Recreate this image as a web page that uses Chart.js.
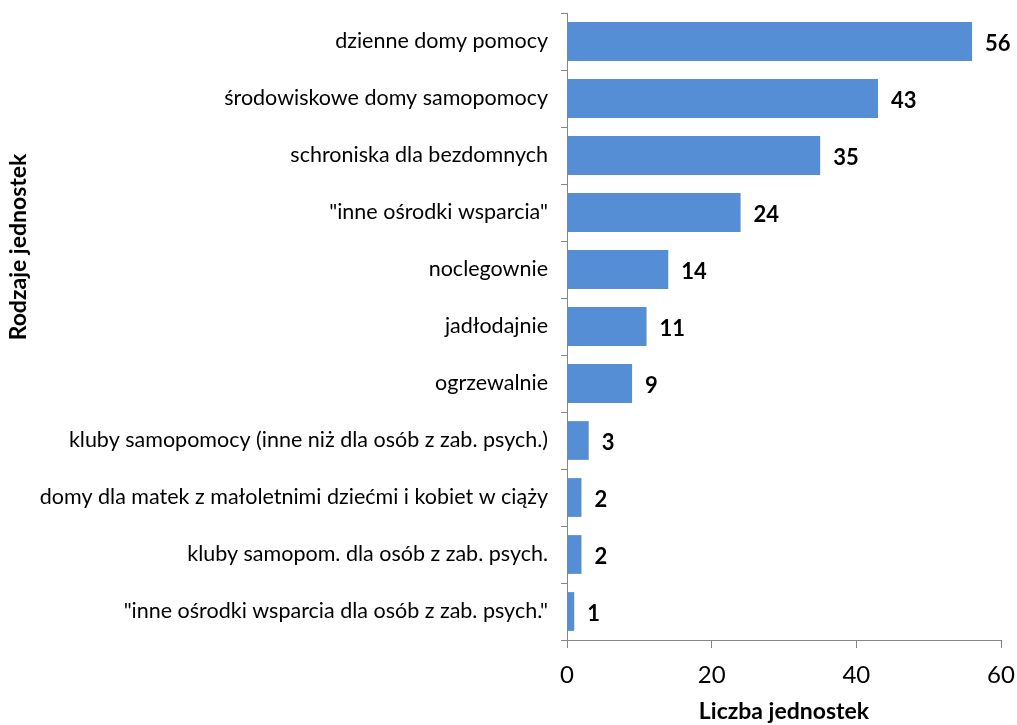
<!DOCTYPE html>
<html>
<head>
<meta charset="utf-8">
<script src="https://cdn.jsdelivr.net/npm/chart.js@4/dist/chart.umd.min.js"></script>
<style>
  html, body { margin: 0; padding: 0; background: #fff; }
  #wrap { width: 1017px; height: 725px; }
</style>
</head>
<body>
<div id="wrap"><canvas id="chart"></canvas></div>
<script>
const categories = [
    'dzienne domy pomocy',
    'środowiskowe domy samopomocy',
    'schroniska dla bezdomnych',
    '"inne ośrodki wsparcia"',
    'noclegownie',
    'jadłodajnie',
    'ogrzewalnie',
    'kluby samopomocy (inne niż dla osób z zab. psych.)',
    'domy dla matek z małoletnimi dziećmi i kobiet w ciąży',
    'kluby samopom. dla osób z zab. psych.',
    '"inne ośrodki wsparcia dla osób z zab. psych."'
];
const counts = [56, 43, 35, 24, 14, 11, 9, 3, 2, 2, 1];
const xTicks = [0, 20, 40, 60];

const FONT = 'Lato, sans-serif';
const AXIS_GREY = '#868686';

// etykiety wartości obok słupków
const valueLabels = {
    id: 'valueLabels',
    afterDatasetsDraw(chart) {
        const ctx = chart.ctx;
        const meta = chart.getDatasetMeta(0);
        ctx.save();
        ctx.font = 'bold 22px ' + FONT;
        ctx.fillStyle = '#000';
        ctx.textAlign = 'left';
        ctx.textBaseline = 'middle';
        meta.data.forEach((bar, i) => {
            ctx.fillText(String(counts[i]), bar.x + 13, bar.y + 2);
        });
        ctx.restore();
    }
};

// tytuły osi
const axisTitles = {
    id: 'axisTitles',
    afterDraw(chart) {
        const ctx = chart.ctx;
        const area = chart.chartArea;
        ctx.save();
        ctx.font = 'bold 23px ' + FONT;
        ctx.fillStyle = '#000';
        ctx.textAlign = 'center';
        ctx.textBaseline = 'middle';
        ctx.fillText('Liczba jednostek', (area.left + area.right) / 2, 712);
        ctx.translate(19, 247);
        ctx.rotate(-Math.PI / 2);
        ctx.fillText('Rodzaje jednostek', 0, 0);
        ctx.restore();
    }
};

new Chart(document.getElementById('chart'), {
    type: 'bar',
    data: {
        labels: categories,
        datasets: [{
            data: counts,
            backgroundColor: '#558ED5',
            borderWidth: 0,
            categoryPercentage: 1,
            barPercentage: 0.68
        }]
    },
    options: {
        indexAxis: 'y',
        responsive: true,
        maintainAspectRatio: false,
        animation: false,
        layout: { padding: { top: 13, right: 16, left: 0, bottom: 0 } },
        plugins: {
            legend: { display: false },
            tooltip: { enabled: false }
        },
        scales: {
            x: {
                min: 0,
                max: 60,
                afterBuildTicks: (scale) => { scale.ticks = xTicks.map(v => ({ value: v })); },
                afterFit: (scale) => {
                    scale.height = 85;
                    scale.paddingLeft = 0;
                    scale.paddingRight = 0;
                },
                grid: {
                    drawOnChartArea: false,
                    drawTicks: true,
                    tickLength: 8,
                    color: AXIS_GREY
                },
                border: { color: AXIS_GREY, width: 1 },
                ticks: {
                    padding: 13,
                    color: '#000',
                    font: { family: FONT, size: 24 }
                }
            },
            y: {
                afterFit: (scale) => {
                    scale.width = 567;
                    scale.paddingTop = 0;
                    scale.paddingBottom = 0;
                },
                grid: {
                    offset: true,
                    drawOnChartArea: false,
                    drawTicks: true,
                    tickLength: 6,
                    color: AXIS_GREY
                },
                border: { color: AXIS_GREY, width: 1 },
                ticks: {
                    padding: 13,
                    color: '#000',
                    font: { family: FONT, size: 21.5 }
                }
            }
        }
    },
    plugins: [valueLabels, axisTitles]
});
</script>
</body>
</html>
